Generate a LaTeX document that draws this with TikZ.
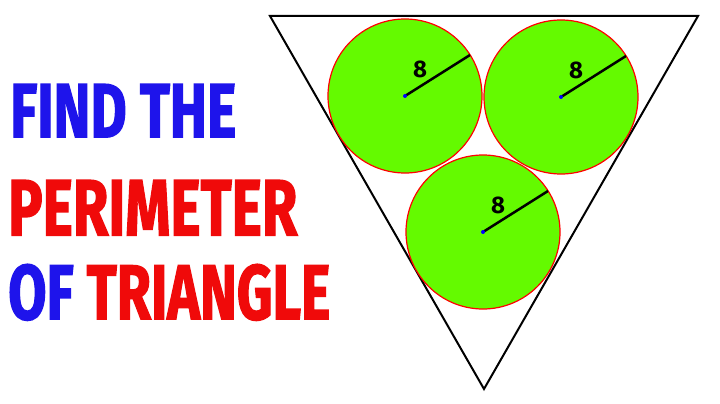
\documentclass[tikz,border=0pt]{standalone}
\usepackage{fontspec}
\setmainfont{Fira Sans}
\newfontfamily\heavy[FakeBold=2]{Fira Sans Bold}
\usepackage{graphicx}
\usetikzlibrary{calc}
\definecolor{tblue}{RGB}{30,20,235}
\definecolor{tred}{RGB}{240,10,10}
\definecolor{cgreen}{RGB}{100,250,0}
\tikzset{ball/.style={fill=cgreen,draw=red,line width=1.2pt},
 rad/.style={line width=2.5pt,black},
 lab/.style={font=\bfseries\fontsize{24}{26}\selectfont},
 title/.style={anchor=north west,inner sep=0pt}}
\begin{document}
\begin{tikzpicture}[x=1pt,y=-1pt]
\useasboundingbox[fill=white] (0,0) rectangle (720,404);
\draw[line width=2pt] (270,16) -- (698,16) -- (484,389) -- cycle;
\foreach \n/\cx/\cy in {a/405/96,b/561/97,c/483/232}{
  \fill[ball] (\cx,\cy) circle (77);
  \coordinate (\n0) at (\cx,\cy);
  \draw[rad] (\n0) -- ++(65,-41) coordinate (\n1);
  \fill[blue] (\n0) circle (2);
  \node[lab] (\n l) at ($(\n0)+(15,-27)$) {8};
}
\node[title,text=tblue] (t1) at (10,84) {\resizebox{226pt}{53pt}{\heavy FIND THE}};
\node[title,text=tred] (t2) at (8,180) {\resizebox{289pt}{55pt}{\heavy PERIMETER}};
\node[title] (t3) at (8,264) {\resizebox{322pt}{55pt}{\heavy\color{tblue}OF \color{tred}TRIANGLE}};
\end{tikzpicture}
\end{document}
